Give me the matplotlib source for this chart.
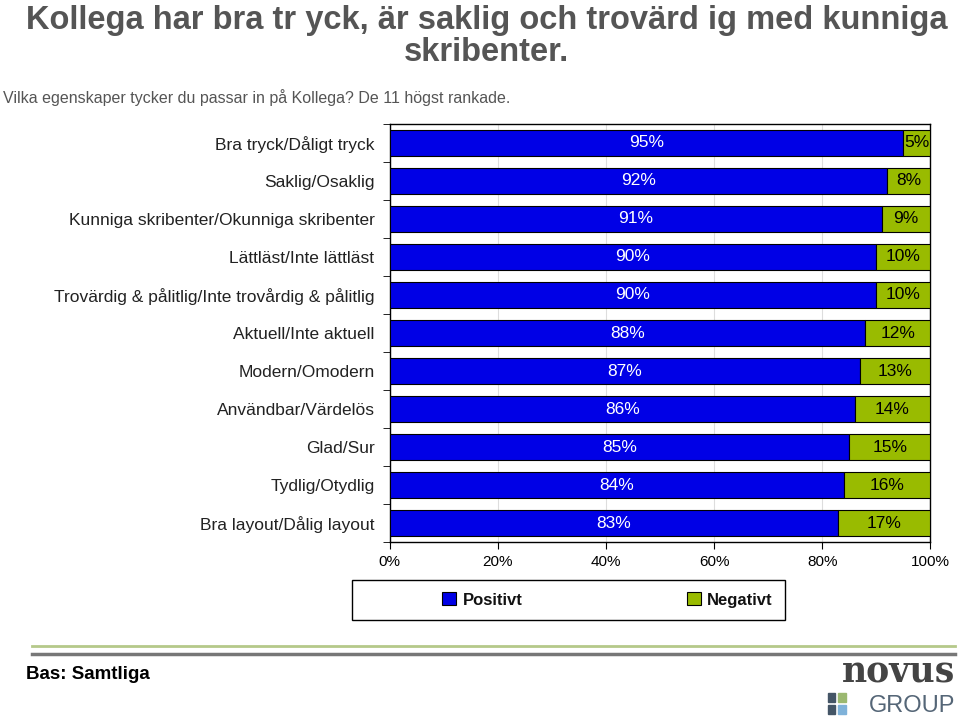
import matplotlib.pyplot as plt
import numpy as np

categories = [
    "Bra tryck/Dåligt tryck",
    "Saklig/Osaklig",
    "Kunniga skribenter/Okunniga skribenter",
    "Lättläst/Inte lättläst",
    "Trovärdig & pålitlig/Inte trovårdig & pålitlig",
    "Aktuell/Inte aktuell",
    "Modern/Omodern",
    "Användbar/Värdelös",
    "Glad/Sur",
    "Tydlig/Otydlig",
    "Bra layout/Dålig layout",
]
positive = [95, 92, 91, 90, 90, 88, 87, 86, 85, 84, 83]
negative = [5, 8, 9, 10, 10, 12, 13, 14, 15, 16, 17]
xticks = [0, 20, 40, 60, 80, 100]

blue = "#0000E6"
green = "#99BB00"
plt.rcParams['font.family'] = ['Liberation Sans', 'DejaVu Sans']

fig = plt.figure(figsize=(9.6, 7.2), dpi=100)
ax = fig.add_axes([0.406, 0.247, 0.563, 0.581])

y = np.arange(len(categories))
bp = ax.barh(y, positive, height=0.7, color=blue, edgecolor="black", linewidth=0.8, label="Positivt", zorder=3)
bn = ax.barh(y, negative, left=positive, height=0.7, color=green, edgecolor="black", linewidth=0.8, label="Negativt", zorder=3)

for yi, p, n in zip(y, positive, negative):
    ax.text(p / 2, yi, f"{p}%", ha="center", va="center", color="white", fontsize=12.5, zorder=4)
    ax.text(p + n / 2, yi, f"{n}%", ha="center", va="center", color="black", fontsize=12.5, zorder=4)

ax.set_xlim(0, 100)
ax.set_ylim(len(categories) - 0.5, -0.5)
ax.set_yticks(y)
ax.set_yticklabels(categories, fontsize=12.5, color="#222222")
ax.set_yticks(np.arange(-0.5, len(categories), 1), minor=True)
ax.tick_params(axis="y", which="major", length=0, pad=11)
ax.tick_params(axis="y", which="minor", length=5)
ax.set_xticks(xticks)
ax.set_xticklabels([f"{t}%" for t in xticks], fontsize=11)
ax.tick_params(axis="x", length=5, pad=4)
ax.grid(axis="x", color="#dddddd", linewidth=0.8, zorder=0)
for s in ax.spines.values():
    s.set_color("black")
    s.set_linewidth(1)

# legend box drawn separately so the entries sit inside a wider frame
fig.add_artist(plt.Rectangle((0.367, 0.139), 0.451, 0.055, transform=fig.transFigure,
                             facecolor="white", edgecolor="black", linewidth=1))
leg = fig.legend(handles=[bp, bn], loc="center", bbox_to_anchor=(0.633, 0.1667),
                 ncol=2, frameon=False,
                 handlelength=0.8, handleheight=0.8, columnspacing=9.9, handletextpad=0.4,
                 prop={'weight': 'bold', 'size': 12})
for t in leg.get_texts():
    t.set_color("#111111")

fig.text(0.507, 0.993, "Kollega har bra tr yck, är saklig och trovärd ig med kunniga\nskribenter.",
         ha="center", va="top", fontsize=23.5, fontweight="bold", color="#555555", linespacing=1.05)
fig.text(0.003, 0.865, "Vilka egenskaper tycker du passar in på Kollega? De 11 högst rankade.",
         ha="left", va="center", fontsize=11.5, color="#555555")

fig.add_artist(plt.Line2D([0.033, 0.995], [0.103, 0.103], color="#b5c98a", linewidth=2))
fig.add_artist(plt.Line2D([0.033, 0.995], [0.092, 0.092], color="#777777", linewidth=2.5))
fig.text(0.027, 0.063, "Bas: Samtliga", ha="left", va="center", fontsize=13.5, fontweight="bold", color="black")

fig.text(0.995, 0.066, "novus", ha="right", va="center", fontsize=25, color="#444444",
         family="DejaVu Serif", fontweight="bold")
fig.text(0.995, 0.020, "GROUP", ha="right", va="center", fontsize=17, color="#556677")
for dx, dy, c in [(0, 0, "#445566"), (0.011, 0, "#9bb870"), (0, -0.016, "#445566"), (0.011, -0.016, "#7fb2d9")]:
    fig.add_artist(plt.Rectangle((0.862 + dx, 0.025 + dy), 0.008, 0.012, color=c, transform=fig.transFigure))

fig.savefig("out.png", dpi=100)
